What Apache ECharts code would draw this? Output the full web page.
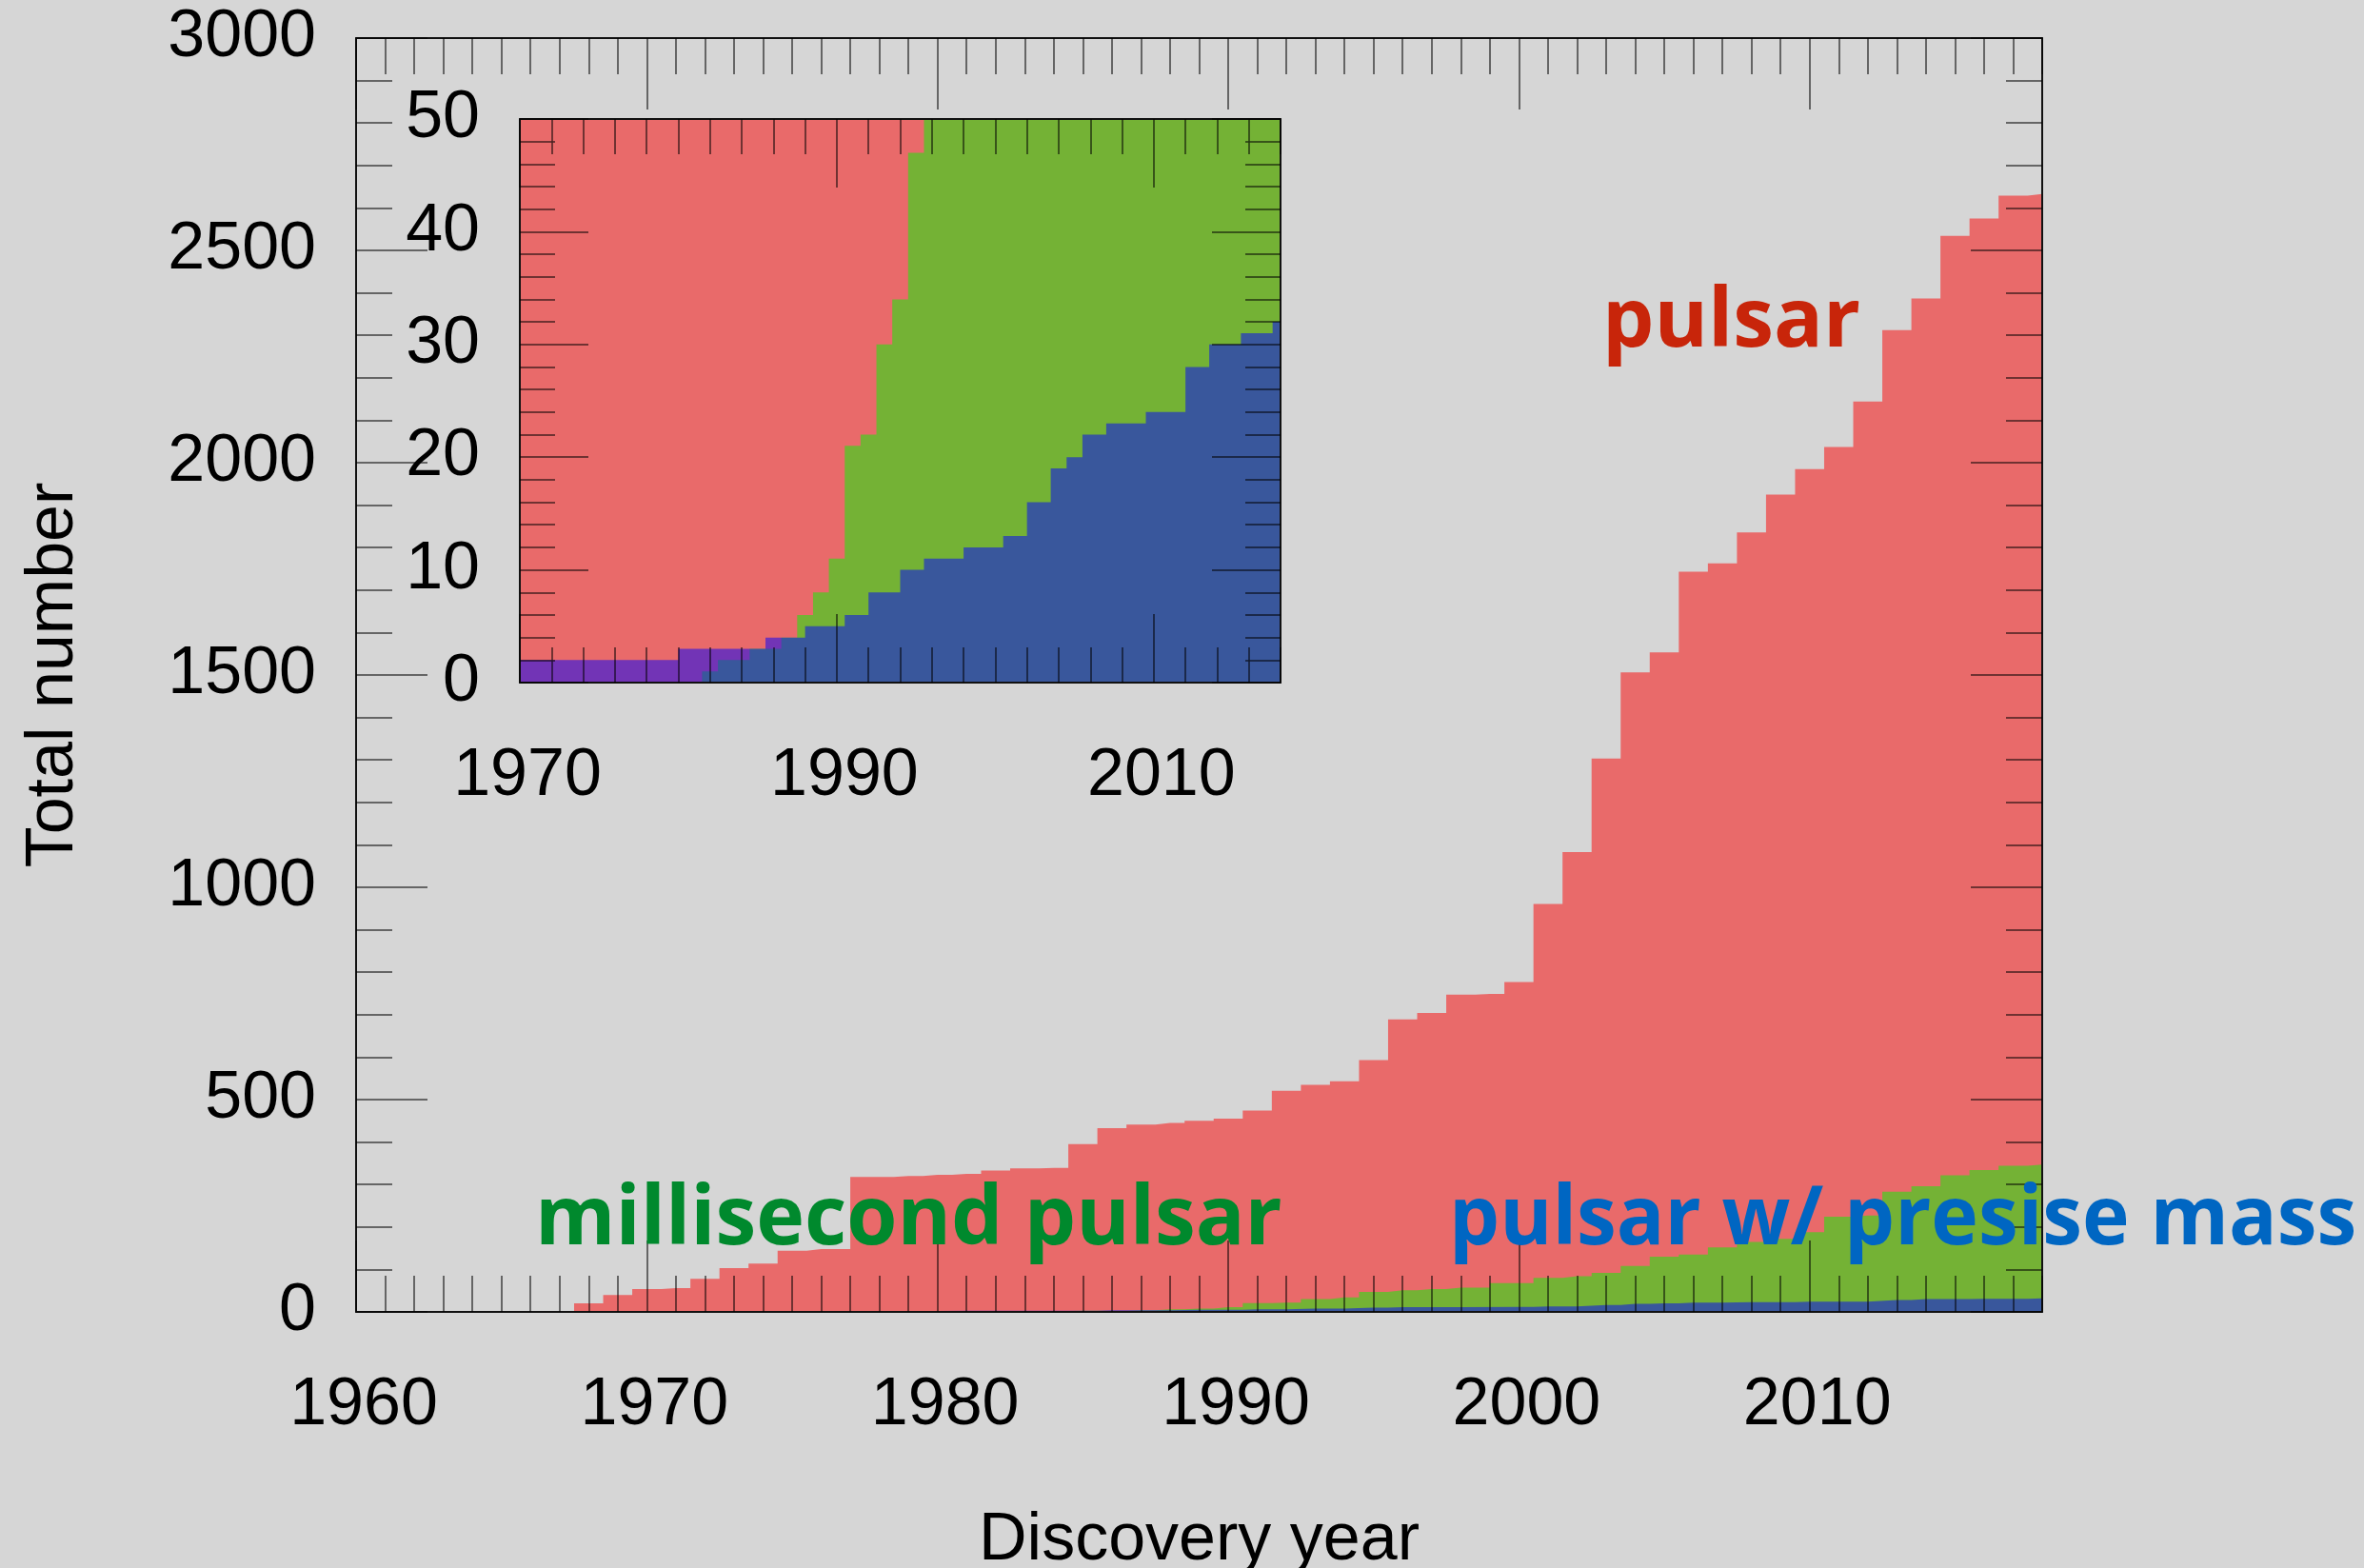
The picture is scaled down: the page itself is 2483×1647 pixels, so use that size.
<!DOCTYPE html>
<html>
<head>
<meta charset="utf-8">
<title>Pulsar discoveries</title>
<script src="https://cdn.jsdelivr.net/npm/echarts@6/dist/echarts.min.js"></script>
<style>
  html, body { margin: 0; padding: 0; background: #d6d6d6; }
  #main { width: 2483px; height: 1647px; }
</style>
</head>
<body>
<div id="main"></div>
<script>
// cumulative totals per discovery year; a missing year = no entry that year
var pulsarYears = [1967, 1968, 1969, 1970, 1971, 1972, 1973, 1974, 1975, 1976,
  1978, 1979, 1980, 1981, 1982, 1983, 1984, 1985, 1986, 1987, 1988, 1989, 1990,
  1991, 1992, 1993, 1994, 1995, 1996, 1997, 1998, 1999, 2000, 2001, 2002, 2003,
  2004, 2005, 2006, 2007, 2008, 2009, 2010, 2011, 2012, 2013, 2014, 2015, 2016,
  2017, 2018];
var pulsarTotal = [0, 20, 40, 54, 56, 78, 103, 114, 144, 148,
  318, 320, 323, 325, 333, 338, 339, 395, 433, 441, 445, 450, 455,
  474, 521, 535, 543, 593, 689, 704, 747, 749, 777, 961, 1083, 1303,
  1506, 1553, 1743, 1763, 1836, 1925, 1985, 2037, 2144, 2312, 2387, 2534, 2575,
  2629, 2633];

var mspYears = [1981, 1982, 1983, 1984, 1985, 1986, 1987, 1988, 1989, 1990,
  1991, 1992, 1993, 1994, 1995, 1996, 1997, 1998, 2000, 2001, 2002, 2003, 2004,
  2005, 2006, 2007, 2008, 2009, 2010, 2011, 2012, 2013, 2014, 2015, 2016, 2017, 2018];
var mspTotal = [0, 1, 2, 2, 3, 3, 4, 6, 8, 11,
  21, 22, 30, 34, 47, 51, 54, 57, 68, 80, 84, 92, 108,
  130, 135, 152, 165, 172, 188, 224, 227, 283, 296, 322, 334, 344, 347];

var massYears = [1967, 1968, 1979, 1981, 1982, 1983, 1984, 1985, 1986, 1987,
  1989, 1990, 1991, 1993, 1995, 1996, 2000, 2001, 2003, 2004, 2005, 2006, 2008,
  2009, 2010, 2011, 2013, 2014, 2015, 2016, 2017, 2018];
var massTotal = [0, 2, 2, 3, 3, 3, 3, 3, 4, 4,
  5, 5, 6, 8, 10, 11, 12, 13, 16, 19, 20, 22, 23,
  23, 24, 24, 28, 30, 30, 31, 31, 32];

// tick labels
var mainYearLabels = [1960, 1970, 1980, 1990, 2000, 2010];
var insetYearLabels = [1970, 1990, 2010];

var RED = '#e96a6a', GREEN = '#74b235', BLUE = '#0000ff';
var TICK = 'rgba(0,0,0,0.7)';
var LABEL = { fontFamily: 'Liberation Sans', fontSize: 70, color: '#000' };

function pairs(xs, ys) {
  return xs.map(function (x, i) { return [x, ys[i]]; });
}

// histogram-like step area (step at midpoint between neighbouring years)
function histo(name, xs, ys, color, opacity, xi, yi) {
  return {
    name: name, type: 'line', step: 'middle',
    xAxisIndex: xi, yAxisIndex: yi,
    data: pairs(xs, ys),
    symbol: 'none', silent: true, clip: true,
    lineStyle: { width: 0 },
    areaStyle: { color: color, opacity: opacity },
    z: 2
  };
}

function axisBase(grid, pos, min, max, len, extra) {
  var a = {
    gridIndex: grid, type: 'value', position: pos, min: min, max: max, z: 10,
    axisLine: { show: false, onZero: false },
    axisTick: { show: true, inside: true, length: len, lineStyle: { color: TICK, width: 1.5 } },
    axisLabel: { show: false },
    splitLine: { show: false }
  };
  return Object.assign(a, extra || {});
}

var frame = { show: true, onZero: false, lineStyle: { color: '#111', width: 2 } };
function fmt(v) { return String(v); }

var xAxes = [
  // main chart
  axisBase(0, 'bottom', 1960, 2018, 75, {
    axisLine: frame,
    axisTick: { show: true, inside: true, length: 75, customValues: mainYearLabels,
      lineStyle: { color: TICK, width: 1.5 } },
    axisLabel: Object.assign({ show: true, margin: 64, padding: [0, 0, 0, 16],
      customValues: mainYearLabels, formatter: fmt }, LABEL),
    name: 'Discovery year', nameLocation: 'middle', nameGap: 206,
    nameTextStyle: Object.assign({}, LABEL)
  }),
  axisBase(0, 'bottom', 1960, 2018, 38, { interval: 1 }),
  axisBase(0, 'top', 1960, 2018, 75, {
    axisLine: frame,
    axisTick: { show: true, inside: true, length: 75, customValues: mainYearLabels,
      lineStyle: { color: TICK, width: 1.5 } }
  }),
  axisBase(0, 'top', 1960, 2018, 38, { interval: 1 }),
  // inset
  axisBase(1, 'bottom', 1970, 2018, 72, {
    axisLine: frame,
    axisTick: { show: true, inside: true, length: 72, customValues: insetYearLabels,
      lineStyle: { color: TICK, width: 1.5 } },
    axisLabel: Object.assign({ show: true, margin: 64, padding: [0, 0, 0, 16],
      customValues: insetYearLabels, formatter: fmt }, LABEL)
  }),
  axisBase(1, 'bottom', 1970, 2018, 37, { interval: 2 }),
  axisBase(1, 'top', 1970, 2018, 72, {
    axisLine: frame,
    axisTick: { show: true, inside: true, length: 72, customValues: insetYearLabels,
      lineStyle: { color: TICK, width: 1.5 } }
  }),
  axisBase(1, 'top', 1970, 2018, 37, { interval: 2 })
];

var yAxes = [
  axisBase(0, 'left', 0, 3000, 75, {
    interval: 500, axisLine: frame,
    minorTick: { show: true, splitNumber: 5, length: 38, lineStyle: { color: TICK, width: 1.5 } },
    axisLabel: Object.assign({ show: true, margin: 42, padding: [10, 0, 0, 0], formatter: fmt }, LABEL),
    name: 'Total number', nameLocation: 'middle', nameGap: 282, nameRotate: 90,
    nameTextStyle: Object.assign({}, LABEL)
  }),
  axisBase(0, 'right', 0, 3000, 75, {
    interval: 500, axisLine: frame,
    minorTick: { show: true, splitNumber: 5, length: 38, lineStyle: { color: TICK, width: 1.5 } }
  }),
  axisBase(1, 'left', 0, 50, 72, {
    interval: 10, axisLine: frame,
    minorTick: { show: true, splitNumber: 5, length: 37, lineStyle: { color: TICK, width: 1.5 } },
    axisLabel: Object.assign({ show: true, margin: 42, padding: [10, 0, 0, 0], formatter: fmt }, LABEL)
  }),
  axisBase(1, 'right', 0, 50, 72, {
    interval: 10, axisLine: frame,
    minorTick: { show: true, splitNumber: 5, length: 37, lineStyle: { color: TICK, width: 1.5 } }
  })
];

var BIG = 'bold 86px "Open Sans"';

var option = {
  animation: false,
  backgroundColor: '#d6d6d6',
  grid: [
    { left: 374, top: 40, width: 1771, height: 1338, outerBoundsMode: 'none' },
    { left: 546, top: 125, width: 799, height: 592, outerBoundsMode: 'none' }
  ],
  xAxis: xAxes,
  yAxis: yAxes,
  series: [
    histo('pulsar', pulsarYears, pulsarTotal, RED, 1, 0, 0),
    histo('millisecond pulsar', mspYears, mspTotal, GREEN, 1, 0, 0),
    histo('pulsar w/ precise mass', massYears, massTotal, BLUE, 0.51, 0, 0),
    histo('pulsar', pulsarYears, pulsarTotal, RED, 1, 4, 2),
    histo('millisecond pulsar', mspYears, mspTotal, GREEN, 1, 4, 2),
    histo('pulsar w/ precise mass', massYears, massTotal, BLUE, 0.51, 4, 2)
  ],
  graphic: [
    { type: 'text', x: 1683, y: 339, z: 100,
      style: { text: 'pulsar', fill: '#c8250a', font: BIG, verticalAlign: 'middle' } },
    { type: 'text', x: 562, y: 1282, z: 100,
      style: { text: 'millisecond pulsar', fill: '#00892d', font: BIG, verticalAlign: 'middle' } },
    { type: 'text', x: 1522, y: 1282, z: 100, scaleX: 0.977,
      style: { text: 'pulsar w/ presise mass', fill: '#0066c2', font: BIG, verticalAlign: 'middle' } }
  ]
};

var myChart = echarts.init(document.getElementById('main'));
myChart.setOption(option);
</script>
</body>
</html>
